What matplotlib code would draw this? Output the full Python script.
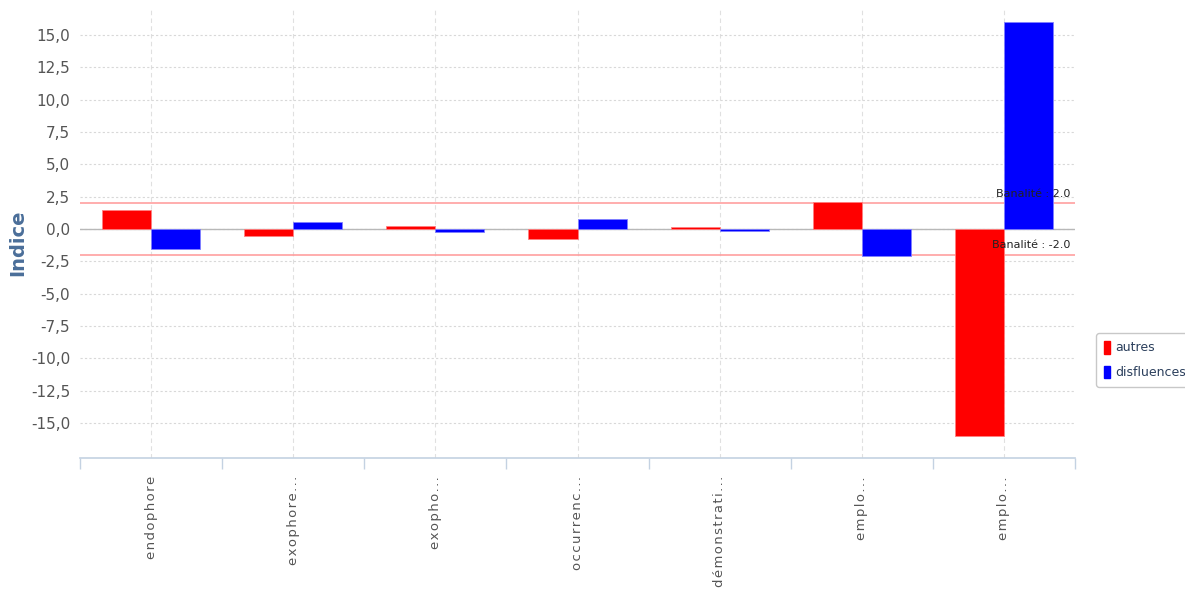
import numpy as np
import matplotlib
matplotlib.use('Agg')
import matplotlib.pyplot as plt
from matplotlib.ticker import FuncFormatter, FixedLocator
from matplotlib.patches import Patch

# données
categories = ['endophore', 'exophore...', 'exopho...', 'occurrenc...',
              'démonstrati...', 'emplo...', 'emplo...']
autres = [1.5, -0.55, 0.25, -0.78, 0.13, 2.08, -16.0]
disfluences = [-1.55, 0.55, -0.27, 0.75, -0.15, -2.08, 16.0]
seuil = 2.0

plt.rcParams['font.family'] = ['DejaVu Sans']

fig = plt.figure(figsize=(11.85, 5.93), dpi=100)
ax = fig.add_axes([0.0675, 0.2277, 0.8397, 0.755])

x = np.arange(len(categories))
w = 0.345
ax.bar(x - w / 2, autres, w, color='#ff0000', edgecolor='#ff8080', linewidth=0.6, zorder=3)
ax.bar(x + w / 2, disfluences, w, color='#0000ff', edgecolor='#8080ff', linewidth=0.6, zorder=3)

ax.set_xlim(-0.5, len(categories) - 0.5)
ax.set_ylim(-17.7, 16.9)

# grille
ax.set_yticks(np.arange(-15, 15.1, 2.5))
ax.yaxis.set_major_formatter(FuncFormatter(lambda v, p: f'{v:.1f}'.replace('.', ',')))
ax.grid(axis='y', color='#d8d8d8', linestyle=(0, (2, 2)), linewidth=0.8, zorder=0)
for xi in x:
    ax.axvline(xi, color='#e0e0e0', linestyle=(0, (4, 3)), linewidth=0.8, zorder=0)
ax.axhline(0, color='#b8b8b8', linewidth=1, zorder=2)

# seuils de banalité
ax.axhline(seuil, color='#ff9f9f', linewidth=1.2, zorder=2)
ax.axhline(-seuil, color='#ff9f9f', linewidth=1.2, zorder=2)
ax.text(len(categories) - 0.53, seuil + 0.35, f'Banalité : {seuil:.1f}', ha='right', va='bottom',
        fontsize=8, color='#222222', zorder=4)
ax.text(len(categories) - 0.53, -seuil + 0.35, f'Banalité : {-seuil:.1f}', ha='right', va='bottom',
        fontsize=8, color='#222222', zorder=4)

# axes
for s in ['top', 'right', 'left']:
    ax.spines[s].set_visible(False)
ax.spines['bottom'].set_color('#c4d2e2')
ax.spines['bottom'].set_linewidth(1.2)
ax.tick_params(axis='y', length=0, labelsize=11, labelcolor='#555555', pad=7)

# étiquettes espacées comme dans l'original
ax.set_xticks(x)
ax.set_xticklabels(['\u200a'.join(c) for c in categories], rotation=90, va='top', ha='center')
ax.tick_params(axis='x', length=0, labelsize=9.5, labelcolor='#555555', pad=13)
ax.xaxis.set_minor_locator(FixedLocator(np.arange(-0.5, len(categories), 1)))
ax.tick_params(axis='x', which='minor', length=8, color='#c4d2e2', width=1)

ax.set_ylabel('Indice', fontsize=14, fontweight='bold', color='#4a6e99')
ax.yaxis.set_label_coords(-0.053, 0.48)

handles = [Patch(color='#ff0000', label='autres'), Patch(color='#0000ff', label='disfluences')]
leg = fig.legend(handles=handles, loc='center left', bbox_to_anchor=(0.925, 0.393),
                 frameon=True, fontsize=9, handlelength=0.5, handleheight=1.2,
                 handletextpad=0.4, borderpad=0.6, borderaxespad=0, labelspacing=0.9)
leg.get_frame().set_edgecolor('#bbbbbb')
leg.get_frame().set_linewidth(1)
for t in leg.get_texts():
    t.set_color('#2b3f5c')

fig.savefig('out.png', dpi=100)
